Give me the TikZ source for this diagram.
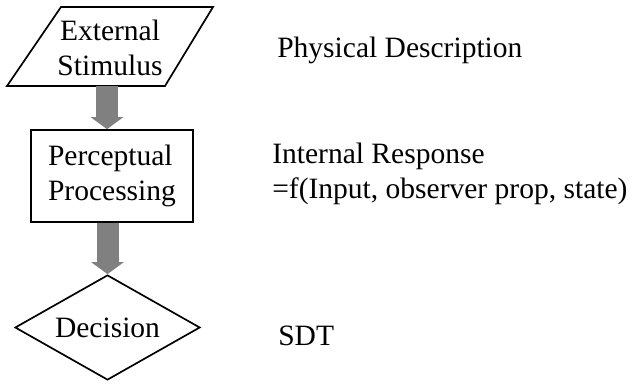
\documentclass[tikz,border=0pt]{standalone}
\usepackage{fontspec}
\setmainfont{Liberation Serif}
\usetikzlibrary{shapes.geometric}
\usetikzlibrary{arrows.meta}

\begin{document}
\begin{tikzpicture}[
  every node/.style={font=\fontsize{21}{24.8}\selectfont},
  outline/.style={draw=black, line width=1.2pt},
  flow/.style={draw=gray, line width=0.55cm, -{Triangle[width=0.8cm, length=0.3cm]}},
  note/.style={anchor=base west, inner sep=0pt, align=left}]
\useasboundingbox (0,0) rectangle (15.9,9.575);
% stimulus (parallelogram)
\draw[outline] (1.525,9.4) -- (5.325,9.4) -- (4.125,7.425) -- (0.175,7.425) -- cycle;
\draw node[align=center] (stim) at (2.75,8.3875) {External\\Stimulus};
\coordinate (stimbase) at (2.675,7.425);
% processing and decision
\draw node[outline, rectangle, minimum width=4.05cm, minimum height=2.3cm, align=left] (proc) at (2.8,5.175) {Perceptual\\Processing};
\draw node[outline, diamond, aspect=1.76, inner sep=0pt, minimum width=4.625cm, minimum height=2.625cm] (dec) at (2.6875,1.3875) {Decision};
\draw[flow] (stimbase) -- (stimbase |- proc.north);
\draw[flow] (dec.north |- proc.south) -- (dec.north);
% descriptions
\draw node[note] (phys) at (6.925,8.15) {Physical Description};
\draw node[note] (resp) at (6.8,4.625) {Internal Response\\=f(Input, observer prop, state)};
\draw node[note] (sdt) at (6.95,0.95) {SDT};
\end{tikzpicture}
\end{document}
